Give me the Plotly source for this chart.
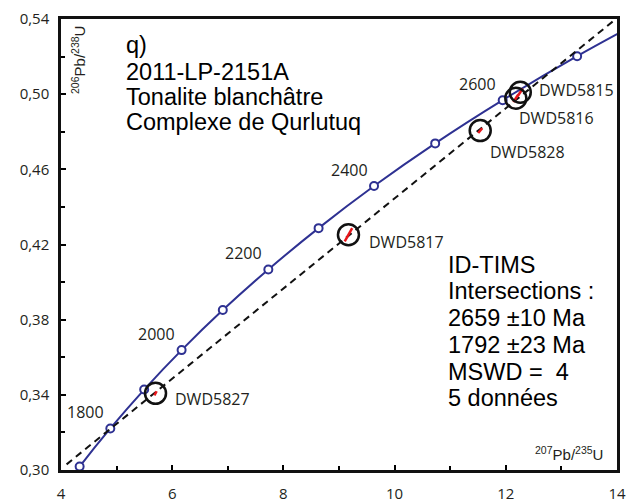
import plotly.graph_objects as go

# Concordia reference points (age in Ma, 207Pb/235U, 206Pb/238U)
conc_age = [1600, 1700, 1800, 1900, 2000, 2100, 2200, 2300, 2400, 2500, 2600, 2700, 2800]
conc_x = [3.834, 4.335, 4.887, 5.496, 6.169, 6.910, 7.729, 8.633, 9.630, 10.730, 11.944, 13.283, 14.762]
conc_y = [0.2817, 0.3018, 0.3221, 0.3428, 0.3638, 0.3851, 0.4067, 0.4287, 0.4511, 0.4738, 0.4968, 0.5202, 0.5440]
labelled_ages = [1800, 2000, 2200, 2400, 2600]

# Discordia (regression line) end points
disc_x = [4.10, 14.0]
disc_y = [0.3030, 0.5405]

# Analyses
samples = ["DWD5827", "DWD5817", "DWD5828", "DWD5816", "DWD5815"]
samp_x = [5.70, 9.17, 11.54, 12.18, 12.26]
samp_y = [0.3408, 0.4252, 0.4806, 0.4978, 0.5010]
err_x = [0.02, 0.067, 0.036, 0.045, 0.045]
err_y = [0.0011, 0.0035, 0.0013, 0.0020, 0.0020]

x_ticks = [4, 6, 8, 10, 12, 14]
y_ticks = [0.30, 0.34, 0.38, 0.42, 0.46, 0.50, 0.54]

title_lines = ["q)", "2011-LP-2151A", "Tonalite blanchâtre", "Complexe de Qurlutuq"]
result_lines = ["ID-TIMS", "Intersections :", "2659 ±10 Ma", "1792 ±23 Ma", "MSWD =  4", "5 données"]

BLUE = "#2e3192"
TXT = "#231f20"
MAIN_FONT = "Liberation Sans, Arial, sans-serif"
LABEL_FONT = "Open Sans, Liberation Sans, sans-serif"

fig = go.Figure()

# Concordia curve
fig.add_trace(go.Scatter(x=conc_x, y=conc_y, mode="lines", line=dict(color=BLUE, width=2, shape="spline"),
                         hoverinfo="skip", showlegend=False))
fig.add_trace(go.Scatter(x=conc_x[1:-1], y=conc_y[1:-1], mode="markers",
                         marker=dict(symbol="circle", size=8, color="white", line=dict(color=BLUE, width=2)),
                         cliponaxis=False, showlegend=False))

# Discordia
fig.add_trace(go.Scatter(x=disc_x, y=disc_y, mode="lines", line=dict(color="#111111", width=2, dash="7px,5px"),
                         showlegend=False))

# Error ellipses (as red segments)
for sx, sy, ex, ey in zip(samp_x, samp_y, err_x, err_y):
    fig.add_trace(go.Scatter(x=[sx - ex, sx + ex], y=[sy - ey, sy + ey], mode="lines",
                             line=dict(color="#e8161b", width=2.5), showlegend=False))

# Circles around analyses
fig.add_trace(go.Scatter(x=samp_x, y=samp_y, mode="markers",
                         marker=dict(symbol="circle-open", size=21, color="#111111", line=dict(width=2.5)),
                         showlegend=False))

annotations = []
# age labels
for age in labelled_ages:
    i = conc_age.index(age)
    annotations.append(dict(x=conc_x[i], y=conc_y[i], xref="x", yref="y", text=str(age), showarrow=False,
                            xshift=-25, yshift=16, font=dict(family=LABEL_FONT, size=16, color=TXT)))

# sample labels
offsets = {"DWD5827": (17, -6), "DWD5817": (19, -7), "DWD5828": (8, -21), "DWD5816": (1, -20), "DWD5815": (17, 2)}
for name, sx, sy in zip(samples, samp_x, samp_y):
    dx, dy = offsets[name]
    annotations.append(dict(x=sx, y=sy, xref="x", yref="y", text=name, showarrow=False, xanchor="left",
                            xshift=dx, yshift=dy, font=dict(family=LABEL_FONT, size=16, color=TXT)))

# Title block (pixel positions of line centres)
title_y = [45, 72, 97, 122]
for line, py in zip(title_lines, title_y):
    annotations.append(dict(x=124, y=py, text=line, showarrow=False, xanchor="left", yanchor="middle",
                            font=dict(family=MAIN_FONT, size=23.5, color="black")))

result_y = [265, 291, 318, 345, 372, 398]
for line, py in zip(result_lines, result_y):
    annotations.append(dict(x=446, y=py, text=line, showarrow=False, xanchor="left", yanchor="middle",
                            font=dict(family=MAIN_FONT, size=23.5, color="black")))

# axis titles inside plot
annotations.append(dict(x=78, y=24, text="<sup>206</sup>Pb/<sup>238</sup>U", textangle=-90, showarrow=False,
                        xanchor="center", yanchor="top", font=dict(family=MAIN_FONT, size=15, color=TXT)))
annotations.append(dict(x=605, y=453, text="<sup>207</sup>Pb/<sup>235</sup>U", showarrow=False,
                        xanchor="right", yanchor="middle", font=dict(family=MAIN_FONT, size=15, color=TXT)))

# convert pixel-positioned paper annotations
W, H = 641, 502
L, R, T, B = 61, 24, 19, 32
pw, ph = W - L - R, H - T - B
for a in annotations:
    if a.get("xref") != "x":
        a["xref"] = "paper"
        a["yref"] = "paper"
        a["x"] = (a["x"] - L) / pw
        a["y"] = 1 - (a["y"] - T) / ph

fig.update_layout(
    width=W, height=H, margin=dict(l=L, r=R, t=T, b=B, autoexpand=False),
    plot_bgcolor="white", paper_bgcolor="white", separators=",.",
    annotations=annotations,
    font=dict(family=LABEL_FONT, size=14, color=TXT),
)
fig.update_xaxes(range=[4, 14], tickvals=x_ticks, ticks="inside", ticklen=5, tickwidth=2, tickcolor="black",
                 showline=True, linecolor="#111111", linewidth=2.5, mirror=True, showgrid=False, zeroline=False,
                 minor=dict(dtick=1, tick0=4, ticks="inside", ticklen=4, tickwidth=2, tickcolor="black"),
                 tickfont=dict(family=LABEL_FONT, size=15, color=TXT), ticklabelstandoff=8, automargin=False)
fig.update_yaxes(range=[0.30, 0.54], tickvals=y_ticks, tickformat=".2f", ticks="inside", ticklen=5, tickwidth=2,
                 tickcolor="black", showline=True, linecolor="#111111", linewidth=2.5, mirror=True, showgrid=False,
                 zeroline=False, minor=dict(dtick=0.02, tick0=0.30, ticks="inside", ticklen=4, tickwidth=2, tickcolor="black"),
                 tickfont=dict(family=LABEL_FONT, size=15, color=TXT), ticklabelstandoff=6, automargin=False)

fig.write_html("out.html", config={"displayModeBar": False},
               post_script="document.body.style.margin='0';document.body.style.overflow='hidden';")
